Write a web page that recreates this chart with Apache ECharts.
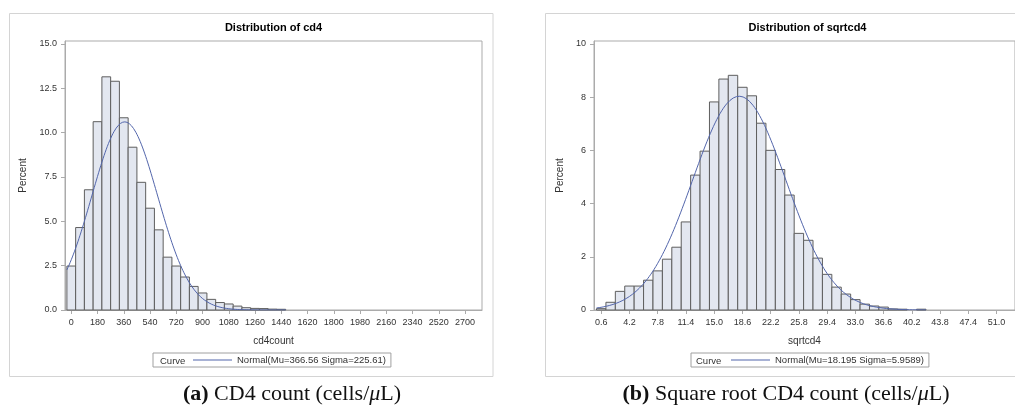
<!DOCTYPE html>
<html>
<head>
<meta charset="utf-8">
<script src="https://cdn.jsdelivr.net/npm/echarts@6/dist/echarts.min.js"></script>
<style>
  html, body { margin: 0; padding: 0; background: #fff; }
  #chart { width: 1015px; height: 420px; }
</style>
</head>
<body>
<div id="chart"></div>
<script>
// ---- Panel (a): CD4 count histogram (bin width 60) ----
const cd4BinWidth = 60;
const cd4BinCenters = [0, 60, 120, 180, 240, 300, 360, 420, 480, 540, 600, 660, 720,
  780, 840, 900, 960, 1020, 1080, 1140, 1200, 1260, 1320, 1380, 1440];
const cd4Percent = [2.48, 4.65, 6.78, 10.62, 13.15, 12.9, 10.84, 9.18, 7.2, 5.74, 4.52, 2.98, 2.48,
  1.86, 1.33, 0.96, 0.6, 0.42, 0.34, 0.22, 0.13, 0.09, 0.08, 0.05, 0.04];
const cd4Mu = 366.56;
const cd4Sigma = 225.61;
const cd4XTicks = [0, 180, 360, 540, 720, 900, 1080, 1260, 1440, 1620, 1800, 1980, 2160, 2340, 2520, 2700];
const cd4YTicks = [0, 2.5, 5, 7.5, 10, 12.5, 15];

// ---- Panel (b): square-root CD4 histogram (bin width 1.2) ----
const sqBinWidth = 1.2;
const sqBinCenters = [0.6, 1.8, 3.0, 4.2, 5.4, 6.6, 7.8, 9.0, 10.2, 11.4, 12.6, 13.8, 15.0, 16.2,
  17.4, 18.6, 19.8, 21.0, 22.2, 23.4, 24.6, 25.8, 27.0, 28.2, 29.4, 30.6, 31.8, 33.0, 34.2,
  35.4, 36.6, 37.8, 39.0, 40.2, 41.4];
const sqPercent = [0.05, 0.29, 0.70, 0.90, 0.90, 1.12, 1.47, 1.91, 2.36, 3.31, 5.07, 5.97, 7.82, 8.68,
  8.82, 8.37, 8.05, 7.02, 6.0, 5.28, 4.32, 2.88, 2.62, 1.95, 1.34, 0.86, 0.60, 0.39, 0.22,
  0.15, 0.11, 0.04, 0.03, 0, 0.03];
const sqMu = 18.195;
const sqSigma = 5.9589;
const sqXTicks = [0.6, 4.2, 7.8, 11.4, 15.0, 18.6, 22.2, 25.8, 29.4, 33.0, 36.6, 40.2, 43.8, 47.4, 51.0];
const sqYTicks = [0, 2, 4, 6, 8, 10];

const cd4LegendName = 'Normal(Mu=' + cd4Mu + ' Sigma=' + cd4Sigma + ')';
const sqLegendName = 'Normal(Mu=' + sqMu + ' Sigma=' + sqSigma.toFixed(4) + ')';

// Fitted normal density expressed as percent per bin
function normalCurve(mu, sigma, binWidth, from, to, steps) {
  const pts = [];
  for (let i = 0; i <= steps; i++) {
    const x = from + (to - from) * i / steps;
    const z = (x - mu) / sigma;
    pts.push([x, 100 * binWidth * Math.exp(-0.5 * z * z) / (sigma * Math.sqrt(2 * Math.PI))]);
  }
  return pts;
}

const FILL = '#e3e7f0';
const EDGE = '#5e5e5e';
const CURVE = '#5366ab';
const FRAME = '#ababab';
const TEXT = '#333';
const SANS = 'Liberation Sans';
const SERIF = 'Liberation Serif';

function histRender(binWidth) {
  return function (params, api) {
    const x = api.value(0), y = api.value(1);
    if (!y) return null;
    const p0 = api.coord([x - binWidth / 2, y]);
    const p1 = api.coord([x + binWidth / 2, 0]);
    return {
      type: 'rect',
      shape: { x: p0[0], y: p0[1], width: p1[0] - p0[0], height: p1[1] - p0[1] },
      style: { fill: FILL, stroke: EDGE, lineWidth: 1 }
    };
  };
}

function xAxisCfg(gridIndex, min, max, ticks, name, fmt) {
  return {
    type: 'value', gridIndex, min, max,
    name, nameLocation: 'middle', nameGap: 26,
    nameTextStyle: { fontFamily: SANS, fontSize: 10, color: TEXT },
    axisLine: { show: true, onZero: false, lineStyle: { color: FRAME } },
    axisTick: { show: true, length: 4, lineStyle: { color: FRAME }, customValues: ticks },
    axisLabel: { fontFamily: SANS, fontSize: 9, color: TEXT, margin: 8, customValues: ticks, formatter: fmt },
    splitLine: { show: false }
  };
}

function yAxisCfg(gridIndex, max, ticks, gap, fmt) {
  return {
    type: 'value', gridIndex, min: 0, max,
    name: 'Percent', nameLocation: 'middle', nameRotate: 90, nameGap: gap,
    nameTextStyle: { fontFamily: SANS, fontSize: 10, color: TEXT },
    axisLine: { show: true, onZero: false, lineStyle: { color: FRAME } },
    axisTick: { show: true, length: 4, lineStyle: { color: FRAME }, customValues: ticks },
    axisLabel: { fontFamily: SANS, fontSize: 9, color: TEXT, margin: 8, customValues: ticks, formatter: fmt },
    splitLine: { show: false }
  };
}

function legendCfg(name, left) {
  return {
    data: [{ name, icon: 'rect', itemStyle: { color: CURVE } }],
    left, top: 353, orient: 'horizontal',
    padding: [2, 5, 2, 40], borderColor: '#a0a0a0', borderWidth: 1,
    itemWidth: 39, itemHeight: 1, itemGap: 5, selectedMode: false,
    textStyle: { fontFamily: SANS, fontSize: 9.5, color: TEXT }
  };
}

const chart = echarts.init(document.getElementById('chart'), null, { renderer: 'canvas' });

chart.setOption({
  backgroundColor: '#fff',
  animation: false,
  textStyle: { fontFamily: SANS },
  title: [
    { text: 'Distribution of cd4', left: 273.5, top: 22, textAlign: 'center', padding: 0,
      textStyle: { fontFamily: SANS, fontSize: 11, fontWeight: 'bold', color: '#000' } },
    { text: 'Distribution of sqrtcd4', left: 807.5, top: 22, textAlign: 'center', padding: 0,
      textStyle: { fontFamily: SANS, fontSize: 11, fontWeight: 'bold', color: '#000' } },
    { text: '{b|(a)} CD4 count (cells/{i|μ}L)', left: 292, top: 383, textAlign: 'center', padding: 0,
      textStyle: { fontFamily: SERIF, fontSize: 22, fontWeight: 'normal', color: '#111',
        rich: { b: { fontFamily: SERIF, fontSize: 22, fontWeight: 'bold', color: '#111' },
                i: { fontFamily: SERIF, fontSize: 22, fontStyle: 'italic', color: '#111' } } } },
    { text: '{b|(b)} Square root CD4 count (cells/{i|μ}L)', left: 786, top: 383, textAlign: 'center', padding: 0,
      textStyle: { fontFamily: SERIF, fontSize: 22, fontWeight: 'normal', color: '#111',
        rich: { b: { fontFamily: SERIF, fontSize: 22, fontWeight: 'bold', color: '#111' },
                i: { fontFamily: SERIF, fontSize: 22, fontStyle: 'italic', color: '#111' } } } }
  ],
  legend: [legendCfg(cd4LegendName, 153), legendCfg(sqLegendName, 691)],
  graphic: [
    { type: 'rect', shape: { x: 9.5, y: 13.5, width: 483.5, height: 363 },
      style: { fill: 'none', stroke: '#d4d4d4', lineWidth: 1 }, silent: true, z: -1 },
    { type: 'rect', shape: { x: 545.5, y: 13.5, width: 500, height: 363 },
      style: { fill: 'none', stroke: '#d4d4d4', lineWidth: 1 }, silent: true, z: -1 },
    { type: 'text', x: 160, y: 361, style: { text: 'Curve', fontFamily: SANS, fontSize: 9.5, fill: TEXT, verticalAlign: 'middle' } },
    { type: 'text', x: 696, y: 361, style: { text: 'Curve', fontFamily: SANS, fontSize: 9.5, fill: TEXT, verticalAlign: 'middle' } }
  ],
  grid: [
    { left: 65, top: 41, width: 417, height: 269, show: true, borderColor: FRAME, borderWidth: 1, backgroundColor: 'transparent' },
    { left: 594, top: 41, width: 427, height: 269, show: true, borderColor: FRAME, borderWidth: 1, backgroundColor: 'transparent' }
  ],
  xAxis: [
    xAxisCfg(0, -43, 2816, cd4XTicks, 'cd4count', v => String(v)),
    xAxisCfg(1, -0.32, 53.35, sqXTicks, 'sqrtcd4', v => v.toFixed(1))
  ],
  yAxis: [
    yAxisCfg(0, 15.17, cd4YTicks, 37, v => v.toFixed(1)),
    yAxisCfg(1, 10.11, sqYTicks, 29, v => String(v))
  ],
  series: [
    { type: 'custom', xAxisIndex: 0, yAxisIndex: 0, renderItem: histRender(cd4BinWidth),
      data: cd4BinCenters.map((c, i) => [c, cd4Percent[i]]), z: 2, silent: true },
    { type: 'line', name: cd4LegendName, xAxisIndex: 0, yAxisIndex: 0, symbol: 'none', smooth: false,
      lineStyle: { color: CURVE, width: 1 }, itemStyle: { color: CURVE }, z: 3, silent: true,
      data: normalCurve(cd4Mu, cd4Sigma, cd4BinWidth, -30, 1470, 200) },
    { type: 'custom', xAxisIndex: 1, yAxisIndex: 1, renderItem: histRender(sqBinWidth),
      data: sqBinCenters.map((c, i) => [c, sqPercent[i]]), z: 2, silent: true },
    { type: 'line', name: sqLegendName, xAxisIndex: 1, yAxisIndex: 1, symbol: 'none', smooth: false,
      lineStyle: { color: CURVE, width: 1 }, itemStyle: { color: CURVE }, z: 3, silent: true,
      data: normalCurve(sqMu, sqSigma, sqBinWidth, 0, 42, 200) }
  ]
});
</script>
</body>
</html>
